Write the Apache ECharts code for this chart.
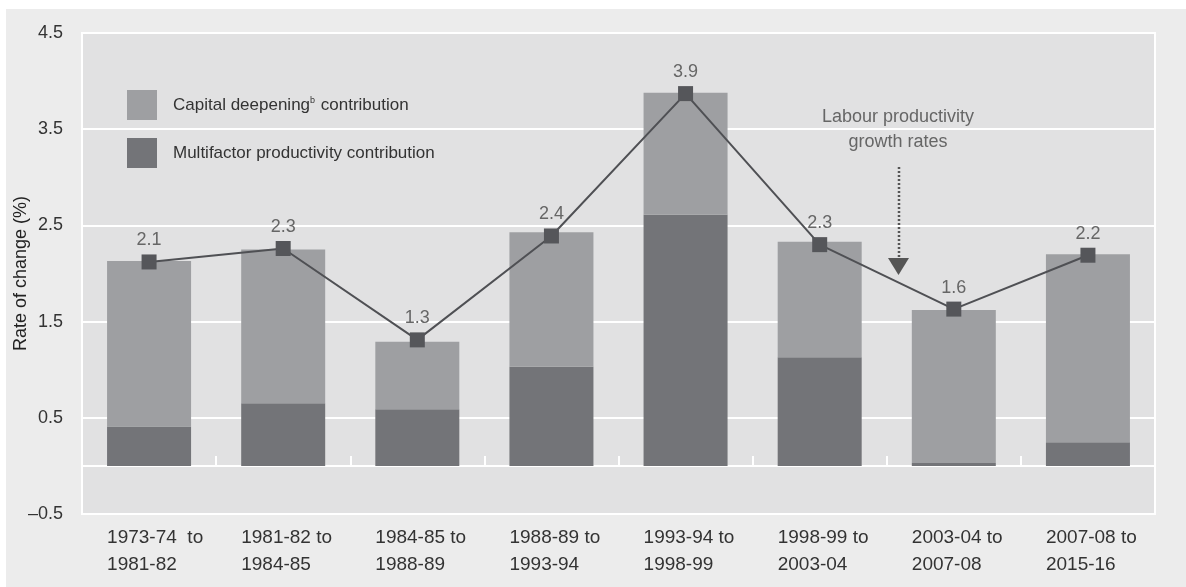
<!DOCTYPE html>
<html>
<head>
<meta charset="utf-8">
<script src="https://cdn.jsdelivr.net/npm/echarts@6/dist/echarts.min.js"></script>
<style>
  html, body { margin: 0; padding: 0; background: #ffffff; }
  #chart { position: absolute; left: 6px; top: 9px; width: 1180px; height: 578px; }
</style>
</head>
<body>
<div id="chart"></div>
<script>
// periods on the x axis
var categories = [
  '1973-74  to\n1981-82',
  '1981-82 to\n1984-85',
  '1984-85 to\n1988-89',
  '1988-89 to\n1993-94',
  '1993-94 to\n1998-99',
  '1998-99 to\n2003-04',
  '2003-04 to\n2007-08',
  '2007-08 to\n2015-16'
];
// contributions (percentage points)
var multifactor = [0.41, 0.65, 0.59, 1.03, 2.61, 1.13, 0.03, 0.245];
var capitalDeepening = [1.72, 1.60, 0.70, 1.40, 1.27, 1.20, 1.59, 1.955];
// labour productivity growth rates (%)
var labourProductivity = [2.12, 2.26, 1.31, 2.39, 3.87, 2.30, 1.63, 2.19];

var font = "'Liberation Sans', Arial, sans-serif";

var chart = echarts.init(document.getElementById('chart'));

chart.setOption({
  backgroundColor: '#ececec',
  animation: false,
  grid: {
    left: 76,
    right: 31,
    top: 24,
    bottom: 73,
    containLabel: false,
    outerBoundsMode: 'none',
    show: true,
    backgroundColor: '#e1e1e2',
    borderColor: '#ffffff',
    borderWidth: 2
  },
  legend: {
    orient: 'vertical',
    left: 116,
    top: 76,
    itemWidth: 30,
    itemHeight: 30,
    itemGap: 18,
    icon: 'rect',
    data: ['Capital deepening contribution', 'Multifactor productivity contribution'],
    formatter: function (name) {
      if (name === 'Capital deepening contribution') {
        return 'Capital deepening{sup|b} contribution';
      }
      return name;
    },
    textStyle: {
      fontFamily: font,
      fontSize: 17,
      color: '#333',
      padding: [0, 0, 0, 11],
      rich: {
        sup: { fontFamily: font, fontSize: 9, color: '#333', padding: [0, 1, 9, 0] }
      }
    }
  },
  xAxis: [
    {
      type: 'category',
      data: categories,
      position: 'bottom',
      axisLine: { show: false, onZero: false },
      axisTick: { show: false },
      axisLabel: {
        margin: 10,
        formatter: function (v) {
          return v.split('\n').map(function (l) { return '{a|' + l + '}'; }).join('\n');
        },
        rich: {
          a: { width: 84, align: 'left', fontFamily: font, fontSize: 19, lineHeight: 27, color: '#333' }
        }
      }
    },
    {
      type: 'category',
      data: categories,
      position: 'bottom',
      axisLine: { show: true, onZero: true, lineStyle: { color: '#ffffff', width: 2 } },
      axisTick: { show: true, inside: true, length: 10, lineStyle: { color: '#ffffff', width: 2 } },
      axisLabel: { show: false }
    }
  ],
  yAxis: {
    type: 'value',
    min: -0.5,
    max: 4.5,
    interval: 1,
    name: 'Rate of change (%)',
    nameLocation: 'middle',
    nameGap: 52,
    nameMoveOverlap: false,
    nameTextStyle: { fontFamily: font, fontSize: 18, color: '#222' },
    axisLine: { show: false },
    axisTick: { show: false },
    axisLabel: {
      margin: 19,
      fontFamily: font,
      fontSize: 18,
      color: '#333',
      formatter: function (v) { return v < 0 ? '\u2013' + Math.abs(v) : String(v); }
    },
    splitLine: { show: true, lineStyle: { color: '#ffffff', width: 2 } }
  },
  series: [
    {
      name: 'Multifactor productivity contribution',
      type: 'bar',
      stack: 'total',
      barWidth: 84,
      itemStyle: { color: '#737478' },
      data: multifactor
    },
    {
      name: 'Capital deepening contribution',
      type: 'bar',
      stack: 'total',
      barWidth: 84,
      itemStyle: { color: '#9e9fa2' },
      data: capitalDeepening
    },
    {
      name: 'Labour productivity growth rates',
      type: 'line',
      symbol: 'rect',
      symbolSize: 15,
      lineStyle: { color: '#4f5054', width: 2 },
      itemStyle: { color: '#55565a' },
      label: {
        show: true,
        position: 'top',
        distance: 5,
        fontFamily: font,
        fontSize: 18,
        color: '#666',
        formatter: function (p) { return p.value.toFixed(1); }
      },
      z: 5,
      data: labourProductivity
    }
  ],
  graphic: [
    {
      type: 'text',
      x: 892,
      y: 121,
      style: {
        text: 'Labour productivity\ngrowth rates',
        align: 'center',
        verticalAlign: 'middle',
        lineHeight: 25,
        fontFamily: font,
        fontSize: 18,
        fill: '#666'
      }
    },
    {
      type: 'line',
      shape: { x1: 893, y1: 158, x2: 893, y2: 250 },
      style: { stroke: '#555', lineWidth: 2.5, lineDash: [2, 2] }
    },
    {
      type: 'polygon',
      shape: { points: [[882, 249], [903, 249], [892.5, 266]] },
      style: { fill: '#555' }
    }
  ]
});
</script>
</body>
</html>
